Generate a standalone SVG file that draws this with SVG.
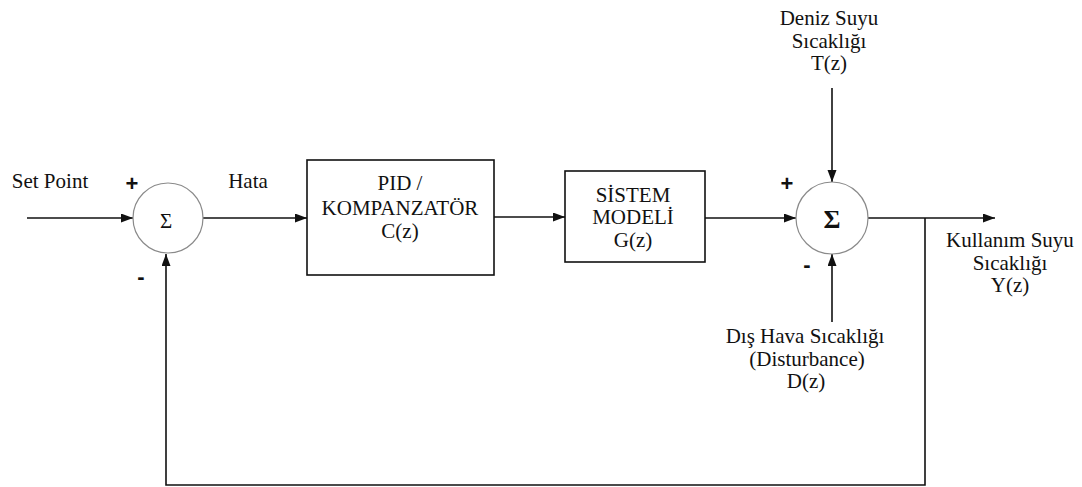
<svg xmlns="http://www.w3.org/2000/svg" width="1082" height="487" viewBox="0 0 1082 487">
<style>
  .t { font-family: "Liberation Serif", "DejaVu Serif", "Times New Roman", serif; font-size: 21px; fill: #111; text-anchor: middle; }
  .sg { font-family: "Liberation Serif", "DejaVu Serif", serif; fill: #111; text-anchor: middle; }
  .ln { fill: none; stroke: #111; stroke-width: 1.6; }
  .box { fill: #fff; stroke: #111; stroke-width: 1.6; }
  .sum { fill: #fff; stroke: #8a8a8a; stroke-width: 1.2; }
  .sign { font-family: "Liberation Sans", Arial, sans-serif; font-weight: bold; fill: #111; text-anchor: middle; }
</style>
<defs>
  <marker id="arr" markerUnits="userSpaceOnUse" markerWidth="13" markerHeight="10" refX="12" refY="4.5" orient="auto">
    <path d="M0,0 L12,4.5 L0,9 z" fill="#111"/>
  </marker>
</defs>
<rect width="1082" height="487" fill="#fff"/>

<g id="connectors">
  <line class="ln" x1="27" y1="218" x2="133" y2="218" marker-end="url(#arr)"/>
  <line class="ln" x1="203" y1="218" x2="307" y2="218" marker-end="url(#arr)"/>
  <line class="ln" x1="494" y1="217" x2="565" y2="217" marker-end="url(#arr)"/>
  <line class="ln" x1="705" y1="218" x2="796" y2="218" marker-end="url(#arr)"/>
  <line class="ln" x1="832" y1="88" x2="832" y2="182" marker-end="url(#arr)"/>
  <line class="ln" x1="832" y1="322" x2="832" y2="254" marker-end="url(#arr)"/>
  <line class="ln" x1="868" y1="218" x2="995" y2="218" marker-end="url(#arr)"/>
  <polyline class="ln" points="925,218 925,485 166,485 166,254" marker-end="url(#arr)"/>
</g>

<g id="sum1">
  <circle class="sum" cx="168" cy="218" r="35"/>
  <text class="sg" x="166" y="228" font-size="21">Σ</text>
  <text class="sign" x="132" y="191" font-size="22">+</text>
  <text class="sign" x="141" y="284" font-size="22">-</text>
</g>

<g id="pid">
  <rect class="box" x="307" y="160" width="187" height="115"/>
  <text class="t" x="400" y="190">PID /</text>
  <text class="t" x="400" y="215">KOMPANZATÖR</text>
  <text class="t" x="400" y="238">C(z)</text>
</g>

<g id="sistem">
  <rect class="box" x="565" y="171" width="140" height="91"/>
  <text class="t" x="633" y="202">SİSTEM</text>
  <text class="t" x="633" y="224">MODELİ</text>
  <text class="t" x="633" y="247">G(z)</text>
</g>

<g id="sum2">
  <circle class="sum" cx="832" cy="218" r="36"/>
  <text class="sg" x="832" y="228" font-size="26" font-weight="bold">Σ</text>
  <text class="sign" x="787" y="191" font-size="22">+</text>
  <text class="sign" x="807" y="272" font-size="22">-</text>
</g>

<g id="labels">
  <text class="t" x="50" y="188">Set Point</text>
  <text class="t" x="248" y="188">Hata</text>
  <text class="t" x="829" y="25">Deniz Suyu</text>
  <text class="t" x="829" y="48">Sıcaklığı</text>
  <text class="t" x="829" y="70">T(z)</text>
  <text class="t" x="1010" y="247">Kullanım Suyu</text>
  <text class="t" x="1010" y="270">Sıcaklığı</text>
  <text class="t" x="1010" y="292">Y(z)</text>
  <text class="t" x="805" y="343">Dış Hava Sıcaklığı</text>
  <text class="t" x="807" y="366">(Disturbance)</text>
  <text class="t" x="806" y="388">D(z)</text>
</g>
</svg>
